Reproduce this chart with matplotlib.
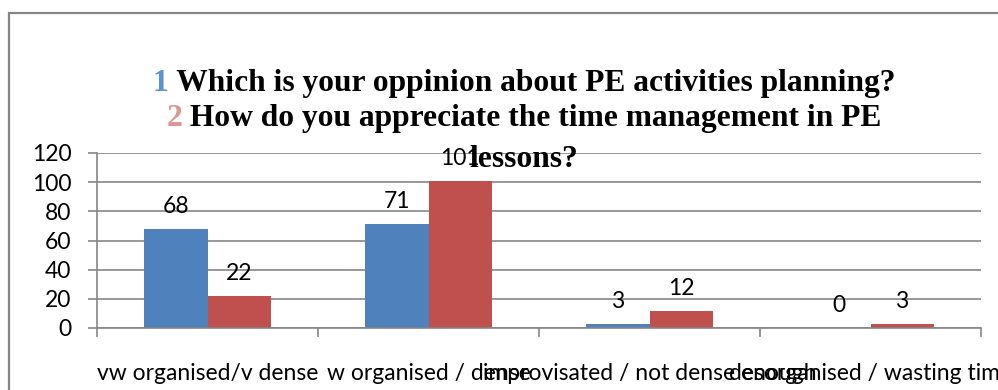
import matplotlib
matplotlib.use("Agg")
import matplotlib.pyplot as plt
from matplotlib.patches import Rectangle
import numpy as np

# Survey answers
categories = ["vw organised/v dense", "w organised / dense",
              "improvisated / not dense enough", "desorganised / wasting time"]
planning = [68, 71, 3, 0]          # 1: opinion about PE activities planning
time_mgmt = [22, 101, 12, 3]       # 2: appreciation of time management
y_ticks = [0, 20, 40, 60, 80, 100, 120]

title_lines = [("1", "Which is your oppinion about PE activities planning?"),
               ("2", "How do you appreciate the time management in PE")]
title_tail = "lessons?"

BLUE = "#4F81BD"
RED = "#C0504D"
GRID = "#868686"
NUM_COLORS = ["#5B8FD6", "#D99694"]

W, H, DPI = 998, 390, 100
fig = plt.figure(figsize=(W / DPI, H / DPI), dpi=DPI)
fig.patch.set_facecolor("white")

# outer chart frame (runs off the right and bottom edges)
fig.patches.append(Rectangle((8.5 / W, -0.2), 1.2, 1 - 13.5 / H + 0.2,
                             transform=fig.transFigure, fill=False,
                             edgecolor="#868686", linewidth=1.6))

ax = fig.add_axes([97 / W, 1 - 328 / H, (981 - 97) / W, (328 - 153) / H])
x = np.arange(len(categories))
bw = 1 / 3.5
ax.bar(x - bw / 2, planning, width=bw, color=BLUE, zorder=2)
ax.bar(x + bw / 2, time_mgmt, width=bw, color=RED, zorder=2)

label_font = dict(family=["Lato", "DejaVu Sans"], size=16.5, color="black")
for xs, vals in ((x - bw / 2, planning), (x + bw / 2, time_mgmt)):
    for xi, v in zip(xs, vals):
        ax.annotate(str(v), (xi, v), xytext=(0, 11.5), textcoords="offset points",
                    ha="center", va="baseline", zorder=5, **label_font)

ax.set_xlim(-0.5, len(categories) - 0.5)
ax.set_ylim(0, 120)
ax.set_yticks(y_ticks)
ax.set_yticklabels([str(t) for t in y_ticks], **label_font)
ax.yaxis.grid(True, color=GRID, linewidth=1.2, zorder=0)
ax.set_axisbelow(True)

ax.set_xticks(x)
ax.set_xticklabels(categories, **label_font)
ax.set_xticks(np.arange(len(categories) + 1) - 0.5, minor=True)
ax.tick_params(axis="x", which="major", length=0, pad=25)
ax.tick_params(axis="x", which="minor", length=9 * 72 / DPI, width=1.2,
               color=GRID, direction="out")
ax.tick_params(axis="y", length=9 * 72 / DPI, width=1.2, color=GRID,
               direction="out", pad=12)

for side in ("top", "right"):
    ax.spines[side].set_visible(False)
for side in ("left", "bottom"):
    ax.spines[side].set_color(GRID)
    ax.spines[side].set_linewidth(1.2)

# Title: coloured question numbers followed by bold question text
title_font = dict(family=["Liberation Serif", "DejaVu Serif"], size=22.7,
                  weight="bold")
cx = 524 / W
baselines = [91, 126]
renderer = fig.canvas.get_renderer()
for (num, txt), base, ncol in zip(title_lines, baselines, NUM_COLORS):
    yb = 1 - base / H
    t_num = fig.text(0, yb, num, color=ncol, va="baseline", ha="left",
                     zorder=10, **title_font)
    t_txt = fig.text(0, yb, " " + txt, color="black", va="baseline", ha="left",
                     zorder=10, **title_font)
    w1 = t_num.get_window_extent(renderer).width
    w2 = t_txt.get_window_extent(renderer).width
    x0 = cx * W - (w1 + w2) / 2
    t_num.set_x(x0 / W)
    t_txt.set_x((x0 + w1) / W)
fig.text(cx, 1 - 167 / H, title_tail, color="black", va="baseline",
         ha="center", zorder=10, **title_font)

fig.savefig("out.png", dpi=DPI)
